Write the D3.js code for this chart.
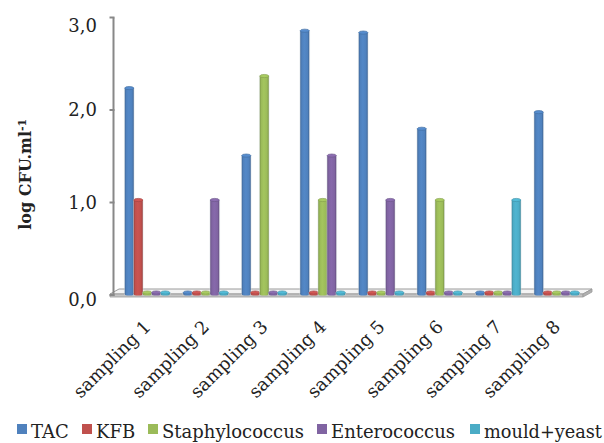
<!DOCTYPE html>
<html>
<head>
<meta charset="utf-8">
<script src="https://cdn.jsdelivr.net/npm/d3@7"></script>
<style>
  html, body { margin: 0; padding: 0; background: #fff; }
  svg { display: block; }
  text { font-family: "DejaVu Serif", serif; fill: #222; }
</style>
</head>
<body>
<svg id="chart" width="604" height="443"></svg>
<script>
// ---- data ----
const categories = ["sampling 1", "sampling 2", "sampling 3", "sampling 4", "sampling 5", "sampling 6", "sampling 7", "sampling 8"];
const seriesNames = ["TAC", "KFB", "Staphylococcus", "Enterococcus", "mould+yeast"];
const TAC = [2.21, 0, 1.48, 2.83, 2.81, 1.77, 0, 1.95];
const KFB = [1.0, 0, 0, 0, 0, 0, 0, 0];
const Staphylococcus = [0, 0, 2.34, 1.0, 0, 1.0, 0, 0];
const Enterococcus = [0, 1.0, 0, 1.48, 1.0, 0, 0, 0];
const mouldYeast = [0, 0, 0, 0, 0, 0, 1.0, 0];
const yTickValues = [0, 1, 2, 3];
const yTickLabels = ["0,0", "1,0", "2,0", "3,0"];
const seriesColors = ["#4F81BD", "#C0504D", "#9BBB59", "#8064A2", "#4BACC6"];

const seriesValues = [TAC, KFB, Staphylococcus, Enterococcus, mouldYeast];

// ---- layout ----
const svg = d3.select("#chart");
const depth = { dx: 9, dy: -5 };           // 3D floor depth offset
const half = { dx: depth.dx / 2, dy: depth.dy / 2 };

const x0 = d3.scaleBand().domain(categories).range([119, 587]).paddingInner(0).paddingOuter(0);
const x1 = d3.scaleBand().domain(seriesNames).range([6.75, 51.75]).padding(0);
const y = d3.scaleLinear().domain([0, 3]).range([295, 17.5]);

const defs = svg.append("defs");
seriesColors.forEach((c, i) => {
  const g = defs.append("linearGradient").attr("id", "cyl" + i)
    .attr("x1", "0%").attr("x2", "100%").attr("y1", "0%").attr("y2", "0%");
  const base = d3.color(c);
  g.append("stop").attr("offset", "0%").attr("stop-color", base.darker(0.6));
  g.append("stop").attr("offset", "18%").attr("stop-color", base);
  g.append("stop").attr("offset", "45%").attr("stop-color", base.brighter(0.15));
  g.append("stop").attr("offset", "82%").attr("stop-color", base);
  g.append("stop").attr("offset", "100%").attr("stop-color", base.darker(0.7));
});

// ---- floor ----
const fx0 = 110, fx1 = x0.range()[1] - 4, fy = y(0) - 1, thick = 3;
svg.append("polygon")
  .attr("points", [[fx0, fy], [fx0 + depth.dx, fy + depth.dy], [fx1 + depth.dx, fy + depth.dy], [fx1, fy]].map(p => p.join(",")).join(" "))
  .attr("fill", "#f4f4f4").attr("stroke", "#9a9a9a").attr("stroke-width", 1);
svg.append("polygon")
  .attr("points", [[fx0, fy], [fx1, fy], [fx1, fy + thick], [fx0, fy + thick]].map(p => p.join(",")).join(" "))
  .attr("fill", "#c4c4c4").attr("stroke", "#9a9a9a").attr("stroke-width", 0.8);
svg.append("polygon")
  .attr("points", [[fx1, fy], [fx1 + depth.dx, fy + depth.dy], [fx1 + depth.dx, fy + depth.dy + thick], [fx1, fy + thick]].map(p => p.join(",")).join(" "))
  .attr("fill", "#b0b0b0").attr("stroke", "#9a9a9a").attr("stroke-width", 0.8);

// ---- value axis ----
const axisX = 113.5;
svg.append("line").attr("x1", axisX).attr("x2", axisX).attr("y1", y(3)).attr("y2", y(0) + 1)
  .attr("stroke", "#888").attr("stroke-width", 2);
const yAxis = svg.append("g");
yAxis.selectAll("line.tick").data(yTickValues).join("line")
  .attr("x1", axisX - 4).attr("x2", axisX + 1)
  .attr("y1", d => y(d)).attr("y2", d => y(d))
  .attr("stroke", "#888").attr("stroke-width", 2);
yAxis.selectAll("text").data(yTickValues).join("text")
  .attr("x", 97).attr("y", d => y(d))
  .attr("dy", (d, i) => i === yTickValues.length - 1 ? "0.8em" : (i === 0 ? "0.6em" : "0.36em"))
  .attr("text-anchor", "end")
  .style("font-size", "18px")
  .text((d, i) => yTickLabels[i]);

// ---- y title ----
const title = svg.append("text")
  .attr("transform", "translate(31," + ((y(3) + y(0)) / 2 + 18) + ") rotate(-90)")
  .attr("text-anchor", "middle")
  .style("font-size", "16px").style("font-weight", "bold");
title.append("tspan").text("log CFU.ml");
title.append("tspan").attr("dy", "-0.5em").style("font-size", "11px").text("-1");

// ---- bars (cylinders) ----
const rows = [];
categories.forEach((c, ci) => {
  seriesNames.forEach((s, si) => rows.push({ cat: c, series: s, si, value: seriesValues[si][ci] }));
});
const bw = x1.bandwidth();
const bars = svg.append("g").selectAll("g.bar").data(rows).join("g").attr("class", "bar");
bars.each(function (d) {
  const g = d3.select(this);
  const cx = x0(d.cat) + x1(d.series) + bw / 2 - 1;
  const top = y(d.value) + half.dy;
  const bottom = y(0) - 1;
  const rx = bw / 2, ry = 1.6;
  const col = d3.color(seriesColors[d.si]);
  g.append("rect").attr("x", cx - rx - 0.8).attr("y", top - 0.5).attr("width", bw + 1.6).attr("height", Math.max(0, bottom - top) + 1.5)
    .attr("fill", "#d6dbe2").attr("opacity", 0.5);
  g.append("rect").attr("x", cx - rx).attr("y", top).attr("width", bw).attr("height", Math.max(0, bottom - top))
    .attr("fill", "url(#cyl" + d.si + ")");
  g.append("ellipse").attr("cx", cx).attr("cy", bottom).attr("rx", rx).attr("ry", ry)
    .attr("fill", "url(#cyl" + d.si + ")");
  g.append("ellipse").attr("cx", cx).attr("cy", top).attr("rx", rx).attr("ry", ry)
    .attr("fill", col.brighter(0.25)).attr("stroke", col.darker(0.4)).attr("stroke-width", 0.7);
});

// ---- category labels ----
svg.append("g").selectAll("text").data(categories).join("text")
  .attr("transform", d => "translate(" + (x0(d) + x0.bandwidth() / 2 + 3.5) + ",328) rotate(-45)")
  .attr("text-anchor", "end")
  .style("font-size", "18px")
  .text(d => d);

// ---- legend ----
const legendX = [17, 82, 148, 317, 470];
const legendMaxW = [40, 40, 142, 124, 118];
const leg = svg.append("g").selectAll("g").data(seriesNames).join("g")
  .attr("transform", (d, i) => "translate(" + legendX[i] + ",424)");
leg.append("rect").attr("width", 10).attr("height", 10).attr("fill", (d, i) => seriesColors[i]);
leg.append("text").attr("x", 14).attr("y", 13.5).style("font-size", "18px").text(d => d)
  .each(function (d, i) {
    const w = this.getComputedTextLength();
    if (w > legendMaxW[i]) {
      d3.select(this).attr("textLength", legendMaxW[i]).attr("lengthAdjust", "spacingAndGlyphs");
    }
  });
</script>
</body>
</html>
